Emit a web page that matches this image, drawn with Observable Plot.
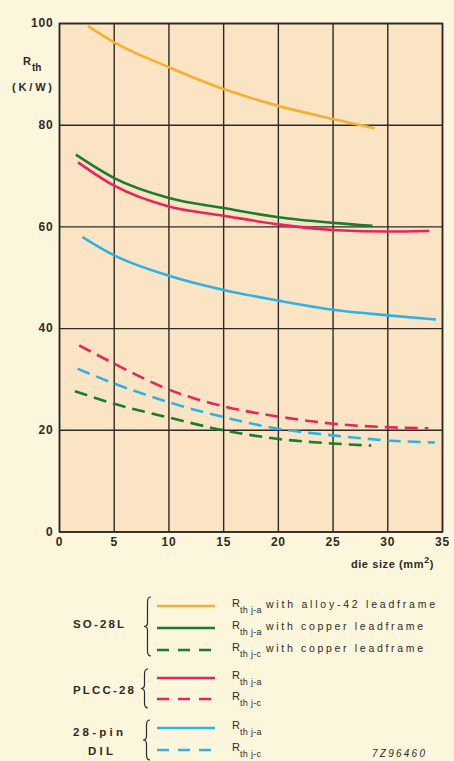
<!DOCTYPE html>
<html>
<head>
<meta charset="utf-8">
<script src="https://cdn.jsdelivr.net/npm/d3@7"></script>
<script src="https://cdn.jsdelivr.net/npm/@observablehq/plot@0.6"></script>
<style>
  html, body { margin: 0; padding: 0; background: #fcf6dc; }
  #wrap { position: relative; width: 454px; height: 761px; overflow: hidden; font-family: "Liberation Sans", Arial, sans-serif; }
  #wrap svg { display: block; overflow: visible; }
</style>
</head>
<body>
<div id="wrap"></div>
<script>
// ---- data ----
const xTicks = [0, 5, 10, 15, 20, 25, 30, 35];
const yTicks = [0, 20, 40, 60, 80, 100];

const so28lJaAlloyX = [2.6, 5, 10, 15, 20, 25, 28.8];
const so28lJaAlloyY = [99.5, 96.3, 91.4, 87.1, 83.8, 81.2, 79.4];
const so28lJaCopperX = [1.5, 5, 10, 15, 20, 25, 28.6];
const so28lJaCopperY = [74.2, 69.6, 65.7, 63.7, 61.9, 60.8, 60.2];
const so28lJcCopperX = [1.4, 5, 10, 15, 20, 25, 28.5];
const so28lJcCopperY = [27.7, 25.2, 22.5, 20.0, 18.3, 17.4, 17.0];
const plccJaX = [1.7, 5, 10, 15, 20, 25, 30, 33.8];
const plccJaY = [72.7, 68.1, 64.0, 62.2, 60.5, 59.4, 59.1, 59.2];
const plccJcX = [1.8, 5, 10, 15, 20, 25, 30, 33.7];
const plccJcY = [36.7, 33.1, 28.0, 24.7, 22.7, 21.3, 20.6, 20.4];
const dilJaX = [2.1, 5, 10, 15, 20, 25, 30, 34.4];
const dilJaY = [58.0, 54.4, 50.4, 47.6, 45.5, 43.7, 42.6, 41.8];
const dilJcX = [1.65, 5, 10, 15, 20, 25, 30, 34.3];
const dilJcY = [32.1, 29.2, 25.5, 22.6, 20.3, 19.0, 18.0, 17.6];

const seriesNames = ["SO-28L Rth j-a alloy-42", "SO-28L Rth j-a copper", "SO-28L Rth j-c copper",
                     "PLCC-28 Rth j-a", "PLCC-28 Rth j-c", "28-pin DIL Rth j-a", "28-pin DIL Rth j-c"];
const legendSubs = ["th j-a", "th j-a", "th j-c", "th j-a", "th j-c", "th j-a", "th j-c"];
const legendNotes = ["with alloy-42 leadframe", "with copper leadframe", "with copper leadframe", "", "", "", ""];
const packageLabels = [["SO-28L"], ["PLCC-28"], ["28-pin", "DIL"]];

// ---- styles ----
const ORANGE = "#f6b031", GREEN = "#1d7a2e", RED = "#e6265a", BLUE = "#2fb2e2";
const INK = "#2e2a26";
const DASH = "13,7";
const FONT = "'Liberation Sans', Arial, sans-serif";

const seriesDefs = [
  {xs: so28lJaAlloyX, ys: so28lJaAlloyY, color: ORANGE, dash: null},
  {xs: so28lJaCopperX, ys: so28lJaCopperY, color: GREEN, dash: null},
  {xs: so28lJcCopperX, ys: so28lJcCopperY, color: GREEN, dash: DASH},
  {xs: plccJaX, ys: plccJaY, color: RED, dash: null},
  {xs: plccJcX, ys: plccJcY, color: RED, dash: DASH},
  {xs: dilJaX, ys: dilJaY, color: BLUE, dash: null},
  {xs: dilJcX, ys: dilJcY, color: BLUE, dash: DASH}
];

const lineMarks = seriesDefs.map((s, i) => {
  const data = s.xs.map((x, j) => ({x, y: s.ys[j], series: seriesNames[i]}));
  return Plot.line(data, {x: "x", y: "y", stroke: s.color, strokeWidth: 2.6,
    strokeDasharray: s.dash || undefined, curve: "monotone-x", strokeLinecap: "butt"});
});

const chart = Plot.plot({
  width: 454,
  height: 575,
  marginLeft: 59,
  marginRight: 12,
  marginTop: 23,
  marginBottom: 43.5,
  style: {background: "transparent", fontFamily: FONT, fontSize: "12px", color: INK, overflow: "visible"},
  x: {domain: [0, 35]},
  y: {domain: [0, 100]},
  marks: [
    Plot.frame({fill: "#fae4c4", stroke: null}),
    Plot.gridX(xTicks, {stroke: INK, strokeOpacity: 1, strokeWidth: 1.4}),
    Plot.gridY(yTicks, {stroke: INK, strokeOpacity: 1, strokeWidth: 1.4}),
    ...lineMarks,
    Plot.frame({stroke: INK, strokeWidth: 1.6}),
    Plot.axisX({ticks: xTicks, tickSize: 0, tickPadding: 5, label: null, fontWeight: "bold", fill: INK}),
    Plot.axisY({ticks: yTicks, tickSize: 0, tickPadding: 6, label: null, fontWeight: "bold", fill: INK})
  ]
});

const wrap = document.getElementById("wrap");
wrap.appendChild(chart);
d3.select(chart).selectAll("g[aria-label$='tick label'] text").attr("letter-spacing", 0.8);

// axis titles
const svg = d3.select(chart);
const yl = svg.append("g").attr("fill", INK).attr("font-weight", "bold").attr("text-anchor", "start");
yl.append("text").attr("x", 23).attr("y", 65).attr("font-size", 11).text("R");
yl.append("text").attr("x", 32).attr("y", 71).attr("font-size", 10).text("th");
yl.append("text").attr("x", 12).attr("y", 91).attr("font-size", 11)
  .attr("textLength", 40).attr("lengthAdjust", "spacing").text("(K/W)");

const xl = svg.append("text").attr("x", 434).attr("y", 568).attr("text-anchor", "end")
  .attr("fill", INK).attr("font-weight", "bold").attr("font-size", 11).attr("letter-spacing", 0.6);
xl.append("tspan").text("die size (mm");
xl.append("tspan").attr("dy", -5).attr("font-size", 9).text("2");
xl.append("tspan").attr("dy", 5).text(")");

// ---- legend (below the chart) ----
const off = 575;
const leg = d3.select(wrap).append("svg").attr("width", 454).attr("height", 761 - off)
  .attr("font-family", FONT).attr("text-anchor", "start");

const rowY = [606, 628, 650, 678, 699, 728, 750];
const noteLen = [169, 157, 157];

seriesDefs.forEach((s, i) => {
  const y = rowY[i] - off;
  leg.append("line").attr("x1", 157).attr("x2", 215).attr("y1", y).attr("y2", y)
    .attr("stroke", s.color).attr("stroke-width", 2.6)
    .attr("stroke-dasharray", s.dash ? "12,9" : null);
  leg.append("text").attr("x", 232).attr("y", y + 1).attr("font-size", 11).attr("fill", INK).text("R");
  leg.append("text").attr("x", 240).attr("y", y + 7).attr("font-size", 9).attr("fill", INK)
    .attr("letter-spacing", 0.3).text(legendSubs[i]);
  if (legendNotes[i]) leg.append("text").attr("x", 266).attr("y", y + 1.5).attr("font-size", 10.5).attr("fill", INK)
    .attr("textLength", noteLen[i]).attr("lengthAdjust", "spacing").text(legendNotes[i]);
});

const labelPos = [[{x: 73, y: 628, w: 51}], [{x: 73, y: 694, w: 61}], [{x: 73, y: 736, w: 50}, {x: 88, y: 755, w: 25}]];
const braces = [[151, 597, 656], [148, 669, 708], [150, 720, 760]];
function bracePath(xr, top, bottom) {
  const mid = (top + bottom) / 2, xm = xr - 3.5, tip = xr - 7;
  return `M${xr},${top} Q${xm},${top} ${xm},${top + 5} L${xm},${mid - 4} Q${xm},${mid} ${tip},${mid}` +
         ` Q${xm},${mid} ${xm},${mid + 4} L${xm},${bottom - 5} Q${xm},${bottom} ${xr},${bottom}`;
}
packageLabels.forEach((lines, g) => {
  lines.forEach((t, k) => {
    const p = labelPos[g][k];
    leg.append("text").attr("x", p.x).attr("y", p.y - off).attr("font-size", 11.5)
      .attr("font-weight", "bold").attr("fill", INK)
      .attr("textLength", p.w).attr("lengthAdjust", "spacing").text(t);
  });
  const [xr, t, b] = braces[g];
  leg.append("path").attr("d", bracePath(xr, t - off, b - off)).attr("fill", "none")
    .attr("stroke", INK).attr("stroke-width", 1.2);
});

leg.append("text").attr("x", 372).attr("y", 757 - off).attr("font-size", 10).attr("font-style", "italic")
  .attr("textLength", 53).attr("lengthAdjust", "spacing").attr("fill", INK).text("7Z96460");
</script>
</body>
</html>
